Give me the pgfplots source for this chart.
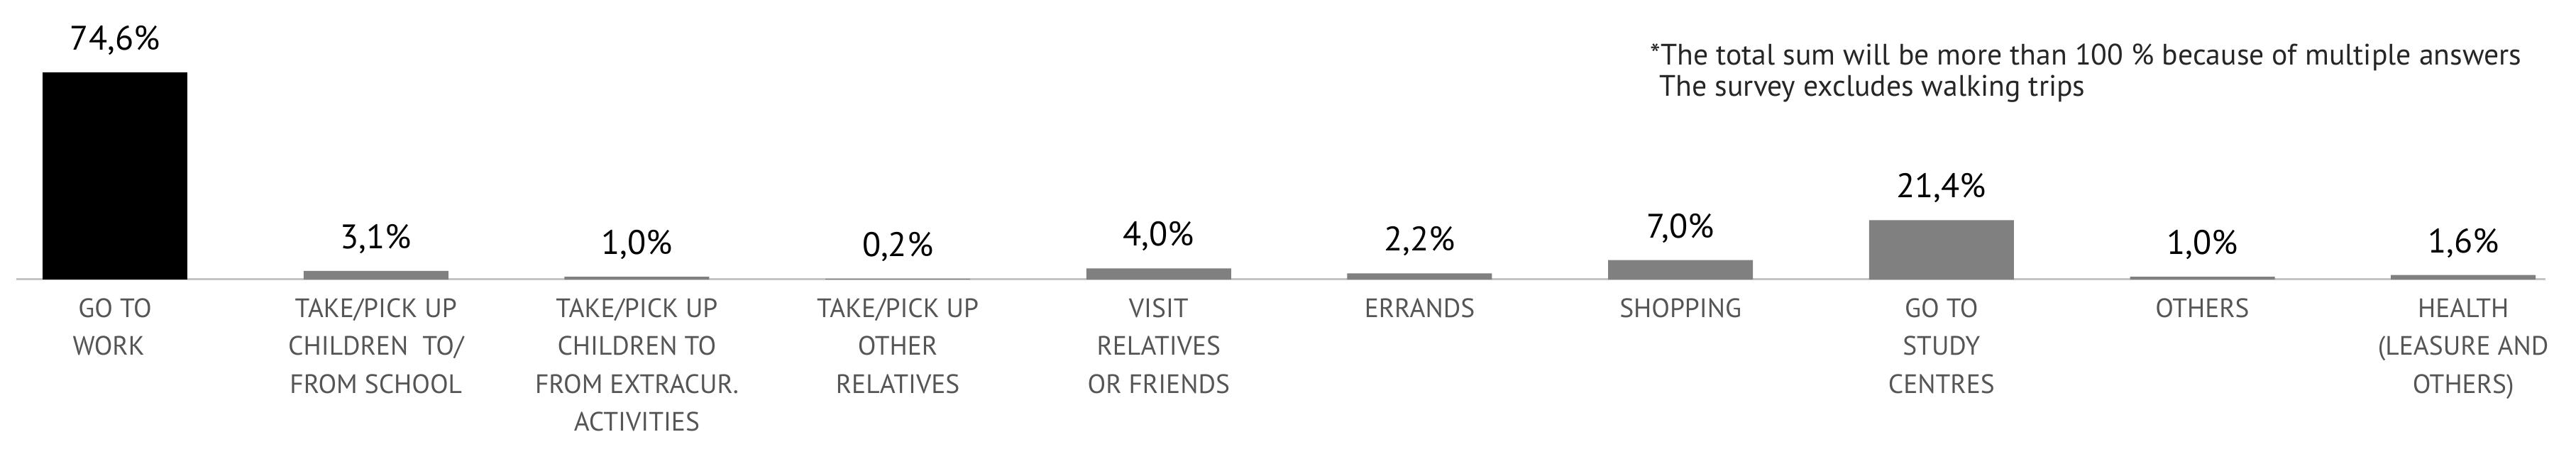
\documentclass[border=0pt]{standalone}
\usepackage{fontspec}
\setmainfont{PT Sans}
\usepackage{pgfplots}
\pgfplotsset{compat=1.18}
\definecolor{bargray}{HTML}{808080}
\definecolor{labgray}{HTML}{555555}
\definecolor{axgray}{HTML}{C4C4C4}
\begin{document}
\begin{tikzpicture}
\path[use as bounding box] (0,0) rectangle (1210pt,213.33pt);
\begin{axis}[
  at={(7.7pt,82pt)}, anchor=south west,
  scale only axis, width=1188pt, height=130.4pt,
  xmin=-0.378, xmax=9.315, ymin=0, ymax=100,
  axis y line=none, axis x line=bottom,
  x axis line style={-, draw=axgray, line width=1pt},
  ytick=\empty,
  xtick={0,1,2,3,4,5,6,7,8,9},
  major tick length=0pt,
  xticklabels={{GO TO\\WORK\hspace*{6pt}},{TAKE/PICK UP\\CHILDREN~ TO/\\FROM SCHOOL},{TAKE/PICK UP\\CHILDREN TO\\FROM EXTRACUR.\\ACTIVITIES},{TAKE/PICK UP\\OTHER\\RELATIVES},{VISIT\\RELATIVES\\OR FRIENDS},{ERRANDS},{SHOPPING},{GO TO\\STUDY\\CENTRES},{OTHERS},{HEALTH\\(LEASURE AND\\OTHERS)}},
  xticklabel style={align=center, text=labgray, inner sep=0pt, anchor=north, yshift=-8.7pt, font={\fontsize{12.5}{17.8}\selectfont}},
  ybar, bar width=68pt,
  nodes near coords,
  point meta=explicit symbolic,
  every node near coord/.append style={anchor=base, inner sep=0pt, yshift=10.5pt, text=black, font={\fontsize{16}{18}\selectfont}},
  clip=false,
]
\addplot[bar shift=0pt, fill=black, draw=none] coordinates {(0,74.6) [74,6\%]};
\addplot[bar shift=0pt, fill=bargray, draw=none] coordinates {
  (1,3.1) [3,1\%]
  (2,1.0) [1,0\%]
  (3,0.2) [0,2\%]
  (4,4.0) [4,0\%]
  (5,2.2) [2,2\%]
  (6,7.0) [7,0\%]
  (7,21.4) [21,4\%]
  (8,1.0) [1,0\%]
  (9,1.6) [1,6\%]
};
\end{axis}
\node[anchor=base west, inner sep=0pt, text=black!85, font={\fontsize{13.9}{15}\selectfont}] at (775pt,182.8pt) {*The total sum will be more than 100 \% because of multiple answers};
\node[anchor=base west, inner sep=0pt, text=black!85, font={\fontsize{13.9}{15}\selectfont}] at (779.3pt,168.3pt) {The survey excludes walking trips};
\end{tikzpicture}
\end{document}
